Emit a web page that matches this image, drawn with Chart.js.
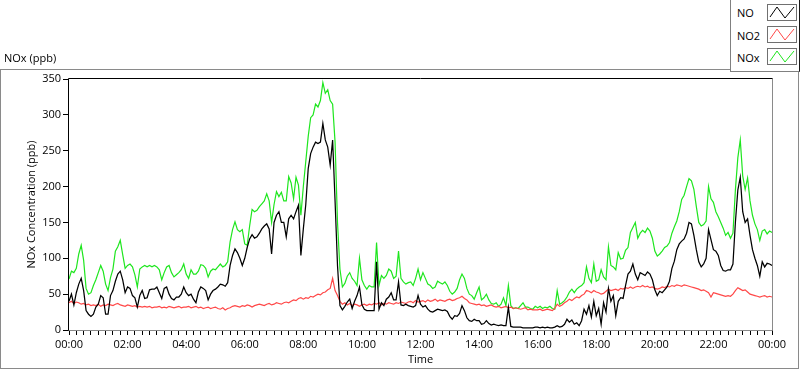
<!DOCTYPE html>
<html><head><meta charset="utf-8">
<script src="https://cdn.jsdelivr.net/npm/chart.js@4.4.1/dist/chart.umd.min.js"></script>
<style>
html,body{margin:0;padding:0;background:#fff;}
#wrap{position:relative;width:800px;height:369px;overflow:hidden;font-family:"Open Sans",sans-serif;color:#000;}
#frame{position:absolute;left:0;top:69px;width:799px;height:300px;box-sizing:border-box;border:1px solid #8a8a8a;}
#c{position:absolute;left:0;top:0;}
#ttl{position:absolute;left:4px;top:50px;font-size:11px;line-height:15px;white-space:nowrap;}
#leg{position:absolute;left:730px;top:-1px;width:70px;height:73px;box-sizing:border-box;border:1px solid #808080;border-right-color:#1a1a1a;background:#fff;}
.row{position:absolute;left:6px;font-size:11px;line-height:15px;white-space:nowrap;}
.sw{position:absolute;left:36px;width:30px;height:17px;box-sizing:border-box;border:1px solid #707070;background:#fff;}
.sw svg{position:absolute;left:0;top:0;}
</style></head>
<body>
<div id="wrap">
  <div id="frame"></div>
  <canvas id="c" width="800" height="369"></canvas>
  <div id="ttl">NOx (ppb)</div>
  <div id="leg"></div>
</div>
<script>
// ---- data (5-minute samples from 00:00 to 24:00) ----
const sampleStepMinutes = 5;
const xTickLabels = ['00:00','02:00','04:00','06:00','08:00','10:00','12:00','14:00','16:00','18:00','20:00','22:00','00:00'];
const seriesNames = ['NO','NO2','NOx'];
const seriesColors = ['#000000','#ff4848','#1ee61e'];

const noValues = [
40,50,35,52,64,72,55,27,22,19,22,32,36,48,45,22,22,48,55,68,78,82,70,52,60,58,48,45,32,48,55,44,45,56,57,57,60,52,44,58,60,50,44,42,46,46,50,60,
52,48,50,43,38,53,60,58,55,42,50,55,57,60,64,63,61,66,90,104,113,108,100,90,100,115,127,133,128,130,135,141,145,148,141,106,150,160,165,150,150,130,155,160,155,165,174,104,
141,175,225,246,255,262,260,262,288,265,255,230,265,180,90,34,28,33,39,43,30,40,48,60,35,29,27,27,27,27,95,29,38,34,43,46,52,42,42,67,35,34,36,34,33,32,34,48,
36,32,34,29,26,25,27,29,28,27,28,26,19,15,20,19,23,34,27,17,13,12,15,13,13,8,9,13,9,7,8,7,6,7,6,6,32,5,4,4,4,4,3,3,3,3,3,4,
4,3,4,3,4,3,3,4,6,4,5,8,15,11,14,8,10,6,13,29,22,34,18,40,20,30,8,38,25,58,40,48,20,40,45,44,62,78,82,92,78,70,80,78,76,81,78,70,56,48,54,52,56,60,68,86,96,112,120,124,127,135,150,148,132,112,95,88,92,100,140,126,112,110,104,90,83,82,84,84,92,150,195,213,165,150,155,132,112,100,90,75,95,88,93,92,90
];

const no2Values = [
38,40,37,39,38,36,37,35,36,34,35,34,36,33,35,34,36,35,34,36,37,35,34,33,35,34,33,34,32,33,32,33,32,33,31,32,32,33,31,32,31,33,32,31,32,33,31,32,
32,33,31,32,33,31,32,30,31,32,30,31,32,30,29,31,28,30,31,33,34,33,32,34,33,35,34,32,34,35,36,35,34,36,37,35,36,38,37,36,38,39,38,40,42,41,44,45,
43,45,44,47,46,48,50,49,52,53,56,58,72,55,48,40,36,38,35,37,34,36,35,33,35,36,34,36,35,37,36,38,35,37,36,38,37,36,38,37,39,38,37,39,40,38,41,39,
40,41,39,42,40,41,43,40,42,41,40,42,43,41,42,44,45,47,44,42,38,37,36,35,36,34,35,33,34,35,33,32,33,31,32,33,31,32,30,31,30,29,30,31,28,29,28,28,
28,29,27,28,29,28,27,30,36,33,35,38,40,43,41,44,46,45,48,50,55,54,52,55,53,52,50,51,54,57,55,56,57,55,58,57,59,58,60,58,60,61,60,62,60,61,59,60,58,57,58,60,59,61,60,62,61,63,62,61,63,62,61,60,59,58,57,55,56,54,52,46,52,51,50,49,48,47,48,47,50,55,59,57,55,56,53,50,49,48,47,46,47,48,46,47,46
];

const noxValues = [
71,82,80,86,106,118,97,58,50,52,62,70,80,90,82,64,55,73,85,110,116,125,105,86,90,92,88,77,60,85,88,90,88,90,88,90,88,84,70,80,88,90,80,74,77,80,84,92,
78,72,84,78,78,82,91,90,86,74,82,85,84,88,92,88,90,95,123,140,151,140,137,140,120,118,145,168,165,167,172,176,180,190,180,150,175,193,186,192,180,180,214,205,183,213,202,160,
200,235,270,296,300,315,311,320,345,330,335,320,315,262,150,85,60,65,75,80,72,68,62,100,70,62,57,62,60,60,122,62,76,72,76,85,82,72,75,110,72,67,64,66,67,62,72,85,
70,80,72,64,62,58,60,68,66,64,67,62,54,50,53,58,70,78,72,58,50,48,43,52,60,42,45,50,42,37,36,38,33,36,45,34,62,34,30,31,30,34,38,32,32,30,29,33,
31,33,30,32,31,33,30,29,55,36,38,41,46,53,57,52,57,60,62,66,88,72,66,92,68,70,84,74,70,116,90,88,84,108,99,100,111,115,136,143,150,128,135,139,136,142,138,128,110,103,106,110,115,117,122,135,144,152,165,182,188,200,211,208,196,172,150,145,147,152,200,183,178,165,158,150,142,132,136,128,135,195,240,265,215,196,212,180,160,148,140,125,138,140,134,138,136
];

const yTickValues = [0,50,100,150,200,250,300,350];

// ---- legend (HTML) ----
const leg = document.getElementById('leg');
const rowTops = [5,28,50];
const swTops = [4,26,48];
seriesNames.forEach((n,i)=>{
  const t = document.createElement('div');
  t.className='row'; t.style.top = rowTops[i]+'px'; t.textContent = n;
  leg.appendChild(t);
  const s = document.createElement('div');
  s.className='sw'; s.style.top = swTops[i]+'px';
  s.innerHTML = '<svg width="28" height="15" viewBox="0 0 28 15"><polyline points="2,12 9,2 17,13 26,2" fill="none" stroke="'+seriesColors[i]+'" stroke-width="1"/></svg>';
  leg.appendChild(s);
});

// ---- chart ----
function toPoints(arr){ return arr.map((v,i)=>({x:i*sampleStepMinutes, y:v})); }

const framePlugin = {
  id:'frame',
  afterDraw(chart){
    const {ctx, chartArea:a} = chart;
    ctx.save();
    ctx.lineWidth = 1;
    ctx.strokeStyle = '#8a8a8a';
    ctx.beginPath();
    ctx.moveTo(a.right+0.5, a.top-0.5); ctx.lineTo(a.right+0.5, a.bottom+0.5); ctx.lineTo(a.left-0.5, a.bottom+0.5);
    ctx.stroke();
    ctx.strokeStyle = '#000';
    ctx.beginPath();
    ctx.moveTo(a.left-0.5, a.bottom+0.5); ctx.lineTo(a.left-0.5, a.top-0.5); ctx.lineTo(a.right+0.5, a.top-0.5);
    ctx.stroke();
    ctx.restore();
  }
};

const tickFont = {family:'"Open Sans", sans-serif', size:11};
new Chart(document.getElementById('c'), {
  type:'line',
  data:{
    datasets:[
      {label:seriesNames[0], data:toPoints(noValues), borderColor:seriesColors[0], borderWidth:1.25, pointRadius:0, tension:0},
      {label:seriesNames[1], data:toPoints(no2Values), borderColor:seriesColors[1], borderWidth:1.2, pointRadius:0, tension:0},
      {label:seriesNames[2], data:toPoints(noxValues), borderColor:seriesColors[2], borderWidth:1.2, pointRadius:0, tension:0}
    ]
  },
  options:{
    responsive:false, animation:false, devicePixelRatio:1,
    layout:{padding:{left:0, top:79, right:28, bottom:0}},
    plugins:{legend:{display:false}, tooltip:{enabled:false}, title:{display:false}},
    scales:{
      x:{
        type:'linear', min:0, max:1440,
        afterBuildTicks:(s)=>{ const t=[]; for(let m=0;m<=1440;m+=15) t.push({value:m}); s.ticks=t; },
        afterFit:(s)=>{ s.height = 39; },
        grid:{drawOnChartArea:false, drawTicks:true, tickLength:5, color:'#000'},
        border:{display:false},
        ticks:{autoSkip:false, maxRotation:0, minRotation:0, padding:3, color:'#000', font:tickFont,
          callback:(v)=> (v % 120 === 0) ? xTickLabels[v/120] : ''},
        title:{display:true, text:'Time', color:'#000', font:tickFont, padding:{top:0,bottom:2.4}}
      },
      y:{
        type:'linear', min:0, max:350,
        afterBuildTicks:(s)=>{ s.ticks = yTickValues.map(v=>({value:v})); },
        afterFit:(s)=>{ s.width = 69; },
        grid:{drawOnChartArea:false, drawTicks:true, tickLength:6, color:'#000'},
        border:{display:false},
        ticks:{padding:2, color:'#000', font:tickFont},
        title:{display:true, text:'NOx Concentration (ppb)', color:'#000', font:tickFont, padding:{top:25.4,bottom:0}}
      }
    }
  },
  plugins:[framePlugin]
});
</script>
</body></html>
